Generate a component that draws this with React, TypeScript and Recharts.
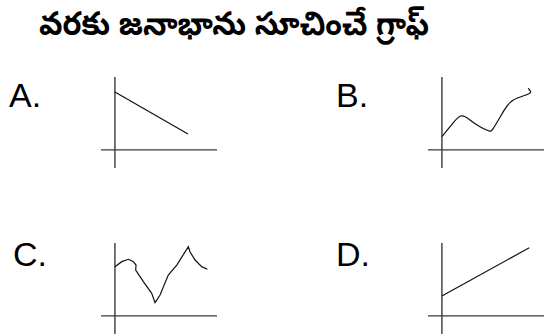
import React from "react";
import { LineChart, Line, XAxis, YAxis, ReferenceLine } from "recharts";

// axis units: x from -1.2 to 8.8, y from -2 to 8 (origin where the two axis lines cross)
const xDomain: [number, number] = [-1.2, 8.8];
const yDomain: [number, number] = [-2, 8];

const optionLabels = ["A.", "B.", "C.", "D."];

// A: straight falling line
const seriesA = [
  { x: 0, y: 6.35 },
  { x: 6.3, y: 1.74 },
];

// B: wavy rise
const seriesB = [
  { x: 0, y: 1.45 },
  { x: 0.7, y: 2.54 },
  { x: 1.62, y: 3.71 },
  { x: 2.42, y: 3.27 },
  { x: 3.28, y: 2.54 },
  { x: 4.0, y: 2.1 },
  { x: 4.43, y: 2.36 },
  { x: 5.29, y: 4.19 },
  { x: 6.16, y: 5.47 },
  { x: 7.45, y: 6.13 },
  { x: 7.6, y: 6.49 },
  { x: 7.45, y: 6.76 },
];

// C: up, deep dip, sharp peak, drop
const seriesC = [
  { x: 0, y: 5.4 },
  { x: 0.59, y: 5.95 },
  { x: 1.16, y: 6.21 },
  { x: 1.59, y: 5.95 },
  { x: 1.82, y: 5.58 },
  { x: 1.79, y: 5.03 },
  { x: 2.45, y: 3.75 },
  { x: 3.17, y: 2.47 },
  { x: 3.46, y: 1.44 },
  { x: 3.89, y: 2.29 },
  { x: 4.6, y: 4.48 },
  { x: 5.33, y: 5.58 },
  { x: 6.33, y: 7.59 },
  { x: 6.47, y: 7.04 },
  { x: 6.91, y: 6.13 },
  { x: 7.48, y: 5.4 },
  { x: 7.97, y: 5.11 },
];

// D: straight rising line
const seriesD = [
  { x: 0, y: 2.17 },
  { x: 7.53, y: 7.48 },
];

const AXIS = "#3a3a3a";

function MiniGraph({
  data,
  curve,
  left,
  top,
}: {
  data: { x: number; y: number }[];
  curve: "linear" | "natural";
  left: number;
  top: number;
}) {
  return (
    <div style={{ position: "absolute", left, top }}>
      <LineChart width={116} height={91} data={data} margin={{ top: 0, right: 0, bottom: 0, left: 0 }}>
        <XAxis type="number" dataKey="x" domain={xDomain} hide />
        <YAxis type="number" domain={yDomain} hide />
        <ReferenceLine x={0} stroke={AXIS} strokeWidth={1.4} />
        <ReferenceLine y={0} stroke={AXIS} strokeWidth={1.2} />
        <Line
          type={curve}
          dataKey="y"
          stroke="#111"
          strokeWidth={1.2}
          dot={false}
          isAnimationActive={false}
        />
      </LineChart>
    </div>
  );
}

export default function App() {
  return (
    <div
      style={{
        position: "absolute",
        left: 0,
        top: 0,
        width: 544,
        height: 335,
        background: "#fff",
        overflow: "hidden",
      }}
    >
      <svg width={544} height={335} style={{ position: "absolute", left: 0, top: 0 }}>
        <text
          x={39}
          y={35}
          fontSize={33}
          fontWeight="bold"
          fill="#000"
          textLength={390}
          lengthAdjust="spacingAndGlyphs"
          style={{ fontFamily: "'Noto Sans Telugu', 'Noto Sans', sans-serif" }}
        >
          వరకు జనాభాను సూచించే గ్రాఫ్
        </text>
        <g style={{ fontFamily: "'Liberation Sans', Arial, sans-serif" }} fontSize={34} fill="#000">
          <text x={9} y={107}>{optionLabels[0]}</text>
          <text x={336} y={107}>{optionLabels[1]}</text>
          <text x={13} y={266}>{optionLabels[2]}</text>
          <text x={336} y={266}>{optionLabels[3]}</text>
        </g>
      </svg>
      <MiniGraph data={seriesA} curve="linear" left={101} top={77} />
      <MiniGraph data={seriesB} curve="natural" left={428} top={77} />
      <MiniGraph data={seriesC} curve="linear" left={101} top={243} />
      <MiniGraph data={seriesD} curve="linear" left={428} top={243} />
    </div>
  );
}
